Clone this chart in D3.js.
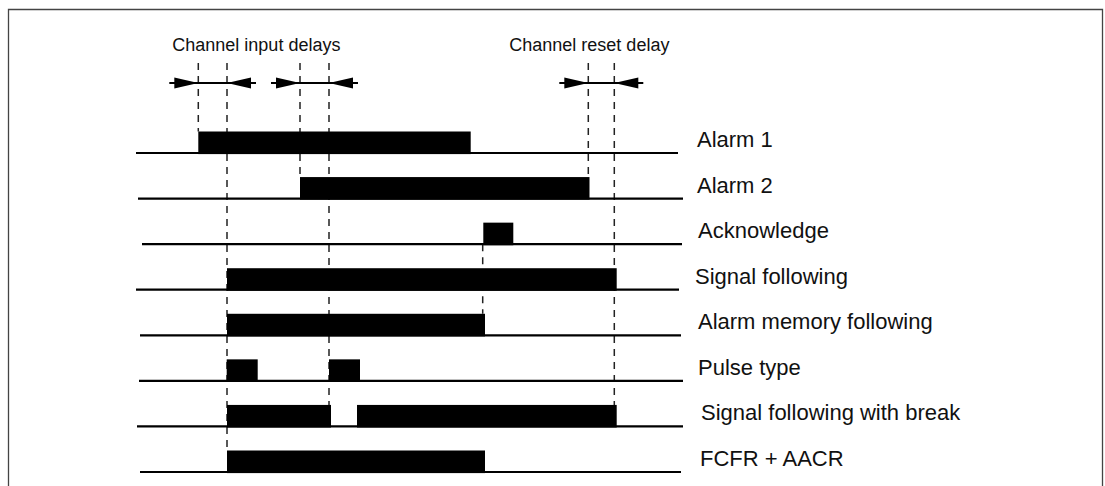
<!DOCTYPE html>
<html>
<head>
<meta charset="utf-8">
<script src="https://cdn.jsdelivr.net/npm/d3@7"></script>
<style>
  html, body { margin: 0; padding: 0; background: #fff; }
  svg { display: block; }
</style>
</head>
<body>
<svg id="chart" width="1105" height="486"></svg>
<script>
// ---------- DATA (time in arbitrary units) ----------
const signals = [
  "Alarm 1", "Alarm 2", "Acknowledge", "Signal following",
  "Alarm memory following", "Pulse type", "Signal following with break", "FCFR + AACR"
];
// high (active) intervals per signal [start, end]
const alarm1 = [[6.23, 33.47]];
const alarm2 = [[16.4, 45.35]];
const acknowledge = [[34.73, 37.73]];
const signalFollowing = [[9.1, 48.07]];
const alarmMemoryFollowing = [[9.1, 34.9]];
const pulseType = [[9.07, 12.17], [19.3, 22.4]];
const signalFollowingWithBreak = [[9.1, 19.5], [22.1, 48.07]];
const fcfrAacr = [[9.1, 34.9]];
const intervals = [alarm1, alarm2, acknowledge, signalFollowing,
  alarmMemoryFollowing, pulseType, signalFollowingWithBreak, fcfrAacr];
// extent of each trace
const traceStart = [0, 0.2, 0.6, 0, 0.4, 0.3, 0.1, 0.4];
const traceEnd = [54.2, 54.7, 54.6, 54.3, 54.5, 54.7, 54.7, 54.5];
// event markers (dashed lines): time, row it starts from (null = top), row whose bar it reaches
const markerTimes = [6.23, 9.1, 16.4, 19.3, 34.67, 45.23, 47.83];
const markerFrom = [null, null, null, null, "Acknowledge", null, null];
const markerTo = ["Alarm 1", "FCFR + AACR", "Alarm 2", "Signal following with break",
  "Alarm memory following", "Alarm 2", "Signal following with break"];
// delay annotations [start, end]
const delayPairs = [[6.23, 9.1], [16.4, 19.3], [45.23, 47.83]];
const delayLabels = ["Channel input delays", "Channel reset delay"];

// ---------- LAYOUT ----------
const svg = d3.select("#chart");
const W = 1105, H = 486;
const x = d3.scaleLinear().domain([0, 54.7]).range([136, 683]);
const y = d3.scalePoint().domain(signals).range([153, 472]);
const barH = 21.5;
const labelX = [697, 697, 698, 695, 698, 698, 701, 700];
const arrowY = 83, dashTop = 63;
const font = "'Liberation Sans', Arial, Helvetica, sans-serif";

// frame
svg.append("path")
  .attr("d", `M8.5,${H} V9.5 H1102.5 V${H}`)
  .attr("fill", "none").attr("stroke", "#444").attr("stroke-width", 1.3);

// dashed markers
const g = svg.append("g");
markerTimes.forEach((t, i) => {
  const y0 = markerFrom[i] ? y(markerFrom[i]) : dashTop;
  const y1 = y(markerTo[i]) - barH;
  g.append("line")
    .attr("x1", x(t)).attr("x2", x(t))
    .attr("y1", y0).attr("y2", y1)
    .attr("stroke", "#222").attr("stroke-width", 1.5)
    .attr("stroke-dasharray", "7,6");
});

// traces
signals.forEach((s, i) => {
  const by = y(s);
  g.append("line")
    .attr("x1", x(traceStart[i])).attr("x2", x(traceEnd[i]))
    .attr("y1", by).attr("y2", by)
    .attr("stroke", "#000").attr("stroke-width", 2.2);
  g.selectAll(null).data(intervals[i]).enter().append("rect")
    .attr("x", d => x(d[0]))
    .attr("width", d => x(d[1]) - x(d[0]))
    .attr("y", by - barH)
    .attr("height", barH + 1.1)
    .attr("fill", "#000");
  g.append("text")
    .attr("x", labelX[i]).attr("y", by - 6)
    .attr("font-family", font).attr("font-size", 22)
    .attr("fill", "#111")
    .text(s);
});

// delay arrows
const ext = 29, headL = 24, headW = 5.5;
delayPairs.forEach(([a, b]) => {
  const xa = x(a), xb = x(b);
  g.append("line")
    .attr("x1", xa - ext).attr("x2", xb + ext)
    .attr("y1", arrowY).attr("y2", arrowY)
    .attr("stroke", "#000").attr("stroke-width", 2);
  g.append("path")
    .attr("d", `M${xa},${arrowY} L${xa - headL},${arrowY - headW} L${xa - headL},${arrowY + headW} Z`)
    .attr("fill", "#000");
  g.append("path")
    .attr("d", `M${xb},${arrowY} L${xb + headL},${arrowY - headW} L${xb + headL},${arrowY + headW} Z`)
    .attr("fill", "#000");
});

// delay labels
g.append("text")
  .attr("x", x(delayPairs[0][0]) - 26).attr("y", 51)
  .attr("font-family", font).attr("font-size", 18).attr("fill", "#111")
  .text(delayLabels[0]);
g.append("text")
  .attr("x", x(delayPairs[2][0]) - 79).attr("y", 51)
  .attr("font-family", font).attr("font-size", 18).attr("fill", "#111")
  .text(delayLabels[1]);
</script>
</body>
</html>
